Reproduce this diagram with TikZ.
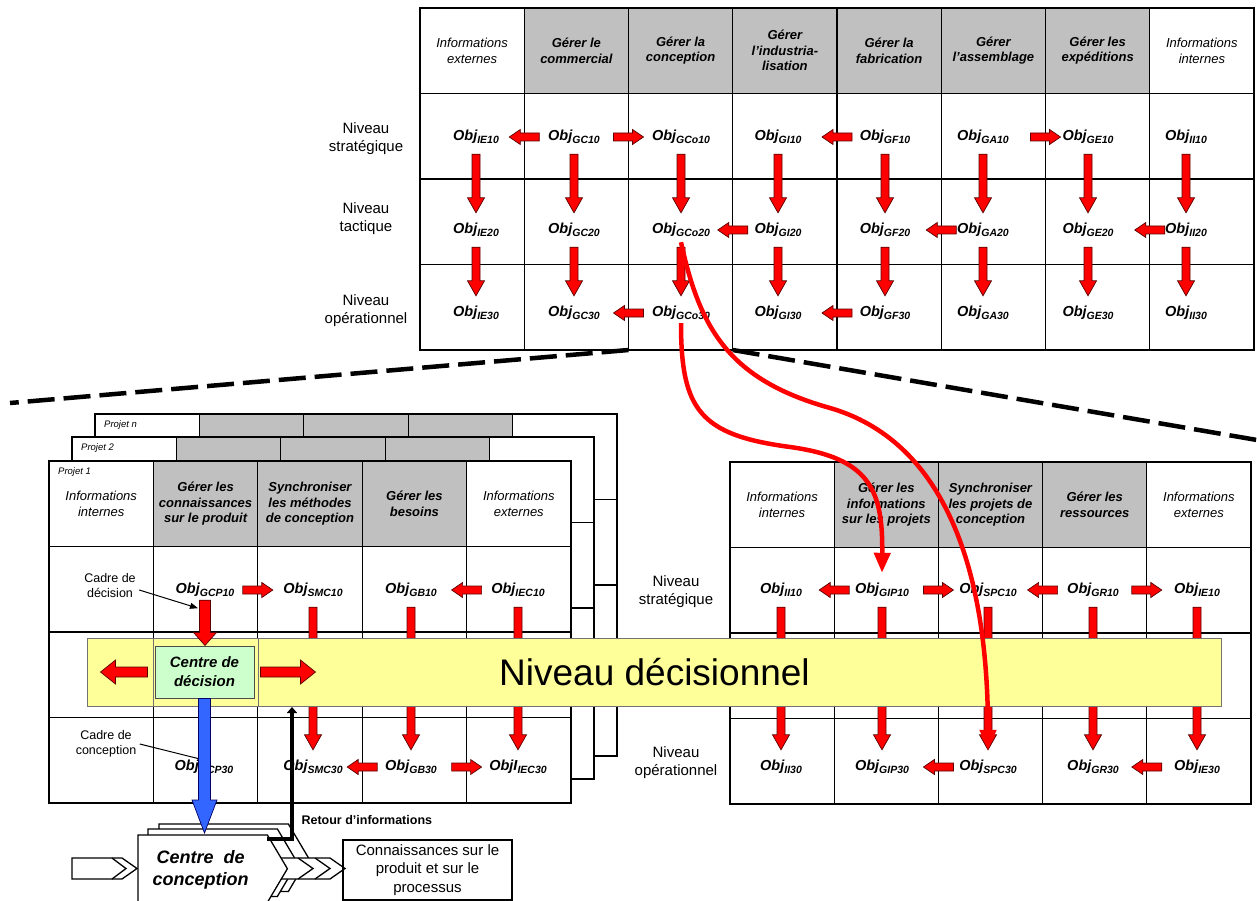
\documentclass[tikz,border=0pt]{standalone}
\usepackage{fontspec}
\setmainfont{Liberation Sans}
\usetikzlibrary{calc,arrows.meta}
\definecolor{hdgray}{RGB}{192,192,192}
\definecolor{bandyel}{RGB}{255,255,153}
\definecolor{cddgreen}{RGB}{204,255,204}
\definecolor{bluearr}{RGB}{51,102,255}
\definecolor{redarr}{RGB}{255,0,0}
\newcommand\fs[2]{\fontsize{#1}{#2}\selectfont}
\newcommand\ob[2][]{{\fs{14.5}{16}\bfseries\itshape Obj#1\raisebox{-3.3pt}{\fs{10.5}{12}#2}}}
\newcommand\harr[4]{\draw[#1,hz] ($(#2.west |- #3)+(#4)$) to ($(#2.west |- #3)-(#4)$);}
\tikzset{
  bas/.store in=\bas, baw/.store in=\baw, bah/.store in=\bah,
  bas=4pt, baw=8.5pt, bah=15pt,
  barrow/.style={draw=black!65!red, fill=redarr, line width=0.7pt, line join=miter},
  dn/.style={barrow, to path={let \p1=(\tikztostart), \p2=(\tikztotarget) in
     (\x1-\bas,\y1) -- (\x1-\bas,\y2+\bah) -- (\x1-\baw,\y2+\bah) -- (\x1,\y2)
     -- (\x1+\baw,\y2+\bah) -- (\x1+\bas,\y2+\bah) -- (\x1+\bas,\y1) -- cycle}},
  rt/.style={barrow, to path={let \p1=(\tikztostart), \p2=(\tikztotarget) in
     (\x1,\y1-\bas) -- (\x2-\bah,\y1-\bas) -- (\x2-\bah,\y1-\baw) -- (\x2,\y1)
     -- (\x2-\bah,\y1+\baw) -- (\x2-\bah,\y1+\bas) -- (\x1,\y1+\bas) -- cycle}},
  lt/.style={barrow, to path={let \p1=(\tikztostart), \p2=(\tikztotarget) in
     (\x1,\y1-\bas) -- (\x2+\bah,\y1-\bas) -- (\x2+\bah,\y1-\baw) -- (\x2,\y1)
     -- (\x2+\bah,\y1+\baw) -- (\x2+\bah,\y1+\bas) -- (\x1,\y1+\bas) -- cycle}},
  hz/.style={bas=4pt, baw=7.5pt, bah=11pt},
  cell/.style={draw, line width=1.1pt, anchor=north west, inner sep=1pt, outer sep=0pt, align=center, fill=white},
  hw/.style={font=\fs{13}{15.5}\itshape},
  hg/.style={fill=hdgray, font=\fs{13}{15.5}\bfseries\itshape},
  obj/.style={inner sep=0pt, minimum height=34pt, anchor=center},
  rowlab/.style={font=\fs{15}{18}, align=center},
  projlab/.style={font=\fs{9.5}{11}\itshape, anchor=west, inner sep=0pt},
  bigdash/.style={line width=4.5pt, dash pattern=on 27pt off 9pt},
  curvearr/.style={draw=redarr, line width=4.5pt, -{Triangle[width=16pt,length=20pt]}},
  cdcshape/.style={draw, fill=white, line width=1.3pt, line join=miter},
}
\newcommand\cdcpoly[2]{\draw[cdcshape] ($(cdc.north west)+(#1,#2)$) -- ($(cdc.north east)+(#1,#2)$) -- ($(cdc.east)+(20+#1,#2)$) -- ($(cdc.south east)+(#1,#2)$) -- ($(cdc.south west)+(#1,#2)$) -- cycle;}
\begin{document}
\begin{tikzpicture}[x=1pt,y=-1pt]
\useasboundingbox (0,0) rectangle (1257,901);
\fill[white] (0,0) rectangle (1257,901);

% ---------- stacked project grids (back) ----------
\foreach \pre/\X/\Y/\lb in {pn/95/414/n, pb/72/437/2} {
  \foreach \cc/\fc in {1/white,2/hdgray,3/hdgray,4/hdgray,5/white}
    \node[cell, fill=\fc, minimum width=104.4pt, minimum height=85.5pt] (\pre1\cc) at ({\X+(\cc-1)*104.4},\Y) {};
  \foreach \rr in {2,3,4} \foreach \cc in {1,...,5}
    \node[cell, minimum width=104.4pt, minimum height=85.5pt] (\pre\rr\cc) at ({\X+(\cc-1)*104.4},{\Y+(\rr-1)*85.5}) {};
  \node[projlab] (\pre lab) at ({\X+9},{\Y+11}) {Projet \lb};
}
% ---------- Projet 1 ----------
\node[cell,hw,minimum width=104.4pt,minimum height=85.5pt] (p11) at (49,461) {Informations\\internes};
\node[cell,hg,minimum width=104.4pt,minimum height=85.5pt] (p12) at (153.4,461) {Gérer les\\connaissances\\sur le produit};
\node[cell,hg,minimum width=104.4pt,minimum height=85.5pt] (p13) at (257.8,461) {Synchroniser\\les méthodes\\de conception};
\node[cell,hg,minimum width=104.4pt,minimum height=85.5pt] (p14) at (362.2,461) {Gérer les\\besoins};
\node[cell,hw,minimum width=104.4pt,minimum height=85.5pt] (p15) at (466.6,461) {Informations\\externes};
\foreach \rr in {2,3,4} \foreach \cc in {1,...,5}
  \node[cell, minimum width=104.4pt, minimum height=85.5pt] (p\rr\cc) at ({49+(\cc-1)*104.4},{461+(\rr-1)*85.5}) {};
\node[projlab] (p1lab) at (58,472) {Projet 1};

% ---------- right grid ----------
\node[cell,hw,minimum width=104.2pt,minimum height=85.5pt] (r11) at (730,462) {Informations\\internes};
\node[cell,hg,minimum width=104.2pt,minimum height=85.5pt] (r12) at (834.2,462) {Gérer les\\informations\\sur les projets};
\node[cell,hg,minimum width=104.2pt,minimum height=85.5pt] (r13) at (938.4,462) {Synchroniser\\les projets de\\conception};
\node[cell,hg,minimum width=104.2pt,minimum height=85.5pt] (r14) at (1042.6,462) {Gérer les\\ressources};
\node[cell,hw,minimum width=104.2pt,minimum height=85.5pt] (r15) at (1146.8,462) {Informations\\externes};
\foreach \rr in {2,3,4} \foreach \cc in {1,...,5}
  \node[cell, minimum width=104.2pt, minimum height=85.5pt] (r\rr\cc) at ({730+(\cc-1)*104.2},{462+(\rr-1)*85.5}) {};

% ---------- top grid ----------
\foreach \cc/\st/\tx in {1/hw/{Informations\\externes}, 2/hg/{Gérer le\\commercial}, 3/hg/{Gérer la\\conception}, 4/hg/{Gérer\\l’industria-\\lisation}, 5/hg/{Gérer la\\fabrication}, 6/hg/{Gérer\\l’assemblage}, 7/hg/{Gérer les\\expéditions}, 8/hw/{Informations\\internes}}
  \node[cell, \st, minimum width=104.25pt, minimum height=85.5pt] (t1\cc) at ({420+(\cc-1)*104.25},8) {\tx};
\foreach \rr in {2,3,4} \foreach \cc in {1,...,8}
  \node[cell, minimum width=104.25pt, minimum height=85.5pt] (t\rr\cc) at ({420+(\cc-1)*104.25},{8+(\rr-1)*85.5}) {};

% ---------- row labels ----------
\node[rowlab] (lts) at (366,139) {Niveau\\stratégique};
\node[rowlab] (ltt) at (366,219) {Niveau\\tactique};
\node[rowlab] (lto) at (366,311) {Niveau\\opérationnel};
\node[rowlab] (lms) at (676,592) {Niveau\\stratégique};
\node[rowlab] (lmo) at (676,763) {Niveau\\opérationnel};

% ---------- dashed zoom lines ----------
\coordinate (dlft) at (10,403);
\coordinate (drgt) at (1257,440);
\draw[bigdash] (t43.south west) -- (dlft);
\draw[bigdash] (t43.south east) -- (drgt);

% ---------- top grid objectives ----------
\foreach \cc/\xx/\sbs in {1/476/IE, 2/574/GC, 3/681/GCo, 4/778/GI, 5/885/GF, 6/983/GA, 7/1088/GE, 8/1186/II} {
  \node[obj] (o1\cc) at (\xx,137) {\ob{\sbs10}};
  \node[obj] (o2\cc) at (\xx,230) {\ob{\sbs20}};
  \node[obj] (o3\cc) at (\xx,313) {\ob{\sbs30}};
  \draw[dn] (o1\cc.south) to (o2\cc.north);
  \draw[dn] (o2\cc.south) to (o3\cc.north);
}
\harr{lt}{t22}{o11}{15,0}
\harr{rt}{t23}{o12}{-15,0}
\harr{lt}{t25}{o14}{15,0}
\harr{rt}{t27}{o16}{-15,0}
\harr{lt}{t24}{o23}{15,0}
\harr{lt}{t26}{o25}{15,0}
\harr{lt}{t28}{o27}{15,0}
\harr{lt}{t23}{o32}{15,0}
\harr{lt}{t25}{o34}{15,0}

% ---------- Projet 1 objectives ----------
\node[obj] (s12) at (205,590) {\ob{GCP10}};
\node[obj] (s13) at (313,590) {\ob{SMC10}};
\node[obj] (s14) at (411,590) {\ob{GB10}};
\node[obj] (s15) at (518,590) {\ob{IEC10}};
\node[obj] (s32) at (204,767) {\ob{GCP30}};
\node[obj] (s33) at (313,767) {\ob{SMC30}};
\node[obj] (s34) at (411,767) {\ob{GB30}};
\node[obj] (s35) at (518,767) {\ob[I]{IEC30}};
\draw[dn] (s13.south) to (s33.north);
\draw[dn] (s14.south) to (s34.north);
\draw[dn] (s15.south) to (s35.north);
\harr{rt}{p23}{s12}{-15,0}
\harr{lt}{p25}{s14}{15,0}
\harr{lt}{p24}{s33}{15,0}
\harr{rt}{p25}{s34}{-15,0}

% ---------- right grid objectives ----------
\foreach \cc/\xx/\sbs in {1/781/II, 2/882/GIP, 3/988/SPC, 4/1093/GR, 5/1197/IE} {
  \node[obj] (q1\cc) at (\xx,590) {\ob{\sbs10}};
  \node[obj] (q3\cc) at (\xx,767) {\ob{\sbs30}};
  \draw[dn] (q1\cc.south) to (q3\cc.north);
}
\harr{lt}{r22}{q11}{15,0}
\harr{rt}{r23}{q12}{-15,0}
\harr{lt}{r24}{q13}{15,0}
\harr{rt}{r25}{q14}{-15,0}
\harr{lt}{r23}{q32}{15,0}
\harr{lt}{r25}{q34}{15,0}

% ---------- decision band ----------
\node[draw=black!55, fill=bandyel, line width=1pt, anchor=north west, minimum width=1134pt, minimum height=68pt, inner sep=0pt, font=\fs{37}{40}] (band) at (87,638) {Niveau décisionnel};
\node[draw=black!55, line width=0.8pt, anchor=north west, minimum width=104.4pt, minimum height=68pt, inner sep=0pt] (cadre) at (153.4,638) {};
\node[draw=black!70, fill=cddgreen, line width=1pt, minimum width=99pt, minimum height=52pt, inner sep=0pt, font=\fs{15}{19}\bfseries\itshape, align=center] (cdd) at (204.5,672) {Centre de\\décision};
\draw[lt, bas=5pt, baw=12pt, bah=15pt] ($(cdd.west)+(-7,0)$) to ($(cdd.west)+(-54,0)$);
\draw[rt, bas=5pt, baw=12pt, bah=15pt] ($(cdd.east)+(6,0)$) to ($(cdd.east)+(61,0)$);
\draw[dn, bas=5.5pt, baw=11.5pt, bah=13pt] ($(s12.south)+(0,-7)$) to (cdd.north);

% ---------- labels Cadre ----------
\node[font=\fs{12.5}{15}, align=center] (cdec) at (110,586) {Cadre de\\décision};
\node[font=\fs{12.5}{15}, align=center] (ccon) at (106,744) {Cadre de\\conception};
\draw[line width=1pt, -{Triangle[width=6pt,length=8pt]}] ($(cdec.east)+(0,4)$) -- ($(s12.south)+(-7,1)$);
\draw[line width=1pt] (ccon.east) -- ($(s32.center)+(-4,-8)$);

% ---------- centre de conception ----------
\node[minimum width=129pt, minimum height=67pt, anchor=north west, inner sep=0pt] (cdc) at (138,835) {};
\draw[cdcshape] (72,858) -- (122,858) -- (137,868.5) -- (122,879) -- (72,879) -- cycle;
\draw[line width=1.3pt] (112,858) -- (126,868.5) -- (112,879);
\cdcpoly{21}{-11}
\cdcpoly{10}{-6}
\draw[cdcshape] (278,858) -- (330,858) -- (345,868.5) -- (330,879) -- (278,879) -- cycle;
\draw[line width=1.3pt] (298,858) -- (313,868.5) -- (298,879);
\draw[line width=1.3pt] (315,858) -- (330,868.5) -- (315,879);
\cdcpoly{0}{0}
\node[font=\fs{18}{22}\bfseries\itshape, align=center] (cdctext) at ($(cdc.center)+(-2,1)$) {Centre\ \ de\\conception};
\node[draw, line width=1.5pt, minimum width=169pt, minimum height=60pt, inner sep=0pt, font=\fs{15}{18.5}, align=center] (ckn) at (427.5,870) {Connaissances sur le\\produit et sur le\\processus};

% blue arrow
\draw[dn, bas=6pt, baw=12.5pt, bah=33pt, fill=bluearr, draw=black!60!blue] (cdd.south) to ($(cdd.south |- cdc.north)+(0,-2)$);
% return arrow
\draw[line width=3.5pt, line join=miter, -{Triangle[width=10pt,length=6pt]}] ($(cdc.north east)+(0,4)$) -| ($(band.south west)+(205,0)$);
\node[font=\fs{12.5}{15}\bfseries, anchor=west] (retlab) at (298,820) {Retour d’informations};

% ---------- curved arrows ----------
\draw[curvearr] ($(o33.south)+(0,-7)$) .. controls (681,410) and (700,435) .. (790,447) .. controls (870,458) and (883,490) .. (q12.north);
\draw[curvearr] ($(o23.south)+(0,-5)$) .. controls (700,330) and (730,380) .. (830,408) .. controls (940,440) and (988,560) .. (q33.north);
\end{tikzpicture}
\end{document}
